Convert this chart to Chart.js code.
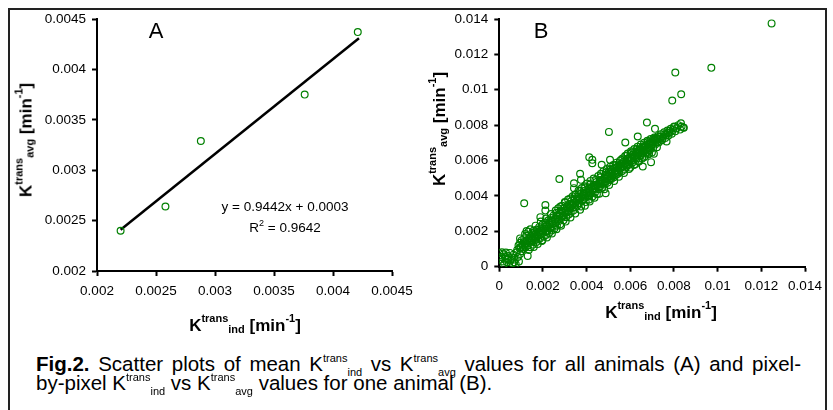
<!DOCTYPE html>
<html>
<head>
<meta charset="utf-8">
<title>Fig.2</title>
<script src="https://cdn.jsdelivr.net/npm/chart.js@4.4.0/dist/chart.umd.min.js"></script>
<style>
    body { margin: 0; background: #fff; width: 833px; height: 410px; overflow: hidden; position: relative;
           font-family: "Liberation Sans", Arial, sans-serif; color: #000; }
    canvas { position: absolute; top: 0; }
    #frame { position: absolute; left: 8px; top: 8px; width: 819px; height: 430px; border: 2px solid #222;
             box-sizing: border-box; pointer-events: none; }
    .t { position: absolute; white-space: nowrap; }
    .ttl { font-weight: bold; font-size: 17px; line-height: 20px; transform: translate(-50%, -50%); }
    .ttl.rot { transform: translate(-50%, -50%) rotate(-90deg); }
    .ttl sup, .ttl sub, .cap sup, .cap sub, .eq sup { position: relative; vertical-align: baseline; }
    .ttl sup, .ttl sub { font-size: 11px; }
    .ttl sup { top: -9px; }
    .ttl sub { top: 2px; }
    .eq { font-size: 13.5px; line-height: 16px; transform: translateX(-50%); }
    .eq sup { font-size: 9px; top: -6px; }
    .panel { font-size: 22px; line-height: 24px; transform: translateX(-50%); }
    .cap { left: 36px; font-size: 20.5px; line-height: 18px; }
    .cap.just { white-space: normal; width: 765px; text-align: justify; text-align-last: justify; }
    .cap sup, .cap sub { font-size: 11px; }
    .cap sup { top: -9px; }
    .cap sub { top: 5px; }
</style>
</head>
<body>
<canvas id="chartA" width="420" height="340" style="left:0"></canvas>
<canvas id="chartB" width="413" height="340" style="left:420px"></canvas>

<div class="t panel" style="left:156px; top:19px">A</div>
<div class="t panel" style="left:541px; top:19px">B</div>

<div class="t eq" style="left:285px; top:199px">y = 0.9442x + 0.0003</div>
<div class="t eq" style="left:285px; top:220px">R<sup>2</sup> = 0.9642</div>

<div class="t ttl" style="left:245px; top:326px">K<sup>trans</sup><sub>ind</sub> [min<sup>-1</sup>]</div>
<div class="t ttl rot" style="left:27px; top:140px">K<sup>trans</sup><sub>avg</sub> [min<sup>-1</sup>]</div>
<div class="t ttl" style="left:661px; top:313px">K<sup>trans</sup><sub>ind</sub> [min<sup>-1</sup>]</div>
<div class="t ttl rot" style="left:440px; top:129px">K<sup>trans</sup><sub>avg</sub> [min<sup>-1</sup>]</div>

<div class="t cap just" style="top:355px"><b>Fig.2.</b> Scatter plots of mean K<sup>trans</sup><sub>ind</sub> vs K<sup>trans</sup><sub>avg</sub> values for all animals (A) and pixel-</div>
<div class="t cap" style="top:374px">by-pixel K<sup>trans</sup><sub>ind</sub> vs K<sup>trans</sup><sub>avg</sub> values for one animal (B).</div>

<div id="frame"></div>

<script>
// panel A: mean values per animal
const aX = [0.0022, 0.00258, 0.00288, 0.00376, 0.00421];
const aY = [0.0024, 0.00264, 0.00329, 0.00375, 0.00437];
// fitted line end points (y = 0.9442x + 0.0003)
const fitX = [0.0022, 0.00422];
const fitY = [0.00241, 0.00431];
const aTicks = [0.002, 0.0025, 0.003, 0.0035, 0.004, 0.0045];
const aTickLabels = ['0.002', '0.0025', '0.003', '0.0035', '0.004', '0.0045'];

// panel B: pixel-by-pixel values, one animal
const bTicks = [0, 0.002, 0.004, 0.006, 0.008, 0.01, 0.012, 0.014];
const bTickLabels = ['0', '0.002', '0.004', '0.006', '0.008', '0.01', '0.012', '0.014'];
const bPairs = [
    // cluster near origin
    [0.00000,0.00076],[0.00005,0.00040],[0.00010,0.00055],[0.00015,0.00030],[0.00020,0.00070],[0.00022,0.00015],
    [0.00028,0.00045],[0.00030,0.00080],[0.00035,0.00025],[0.00040,0.00060],[0.00045,0.00010],[0.00048,0.00078],
    [0.00052,0.00035],[0.00058,0.00052],[0.00060,0.00020],[0.00065,0.00068],[0.00070,0.00040],[0.00075,0.00015],
    [0.00080,0.00082],[0.00085,0.00055],[0.00090,0.00030],[0.00012,0.00082],[0.00025,0.00058],[0.00038,0.00042],
    [0.00068,0.00025],[0.00095,0.00072],[0.00130,0.00061],
    // main band
    [0.00082,0.00095],[0.00088,0.00120],[0.00092,0.00105],[0.00095,0.00135],[0.00100,0.00088],[0.00103,0.00150],
    [0.00107,0.00118],[0.00110,0.00100],[0.00114,0.00160],[0.00118,0.00132],[0.00120,0.00108],[0.00124,0.00175],
    [0.00127,0.00145],[0.00130,0.00120],[0.00133,0.00198],[0.00136,0.00158],[0.00140,0.00135],[0.00143,0.00110],
    [0.00146,0.00170],[0.00150,0.00190],[0.00152,0.00145],
    [0.00155,0.00125],[0.00158,0.00205],[0.00161,0.00168],[0.00164,0.00150],[0.00167,0.00185],[0.00170,0.00140],
    [0.00172,0.00210],[0.00175,0.00172],[0.00178,0.00158],[0.00180,0.00195],[0.00183,0.00225],[0.00186,0.00160],
    [0.00189,0.00182],[0.00192,0.00205],[0.00195,0.00145],[0.00198,0.00238],[0.00201,0.00190],[0.00204,0.00170],
    [0.00207,0.00215],[0.00210,0.00250],[0.00213,0.00198],[0.00216,0.00180],[0.00219,0.00228],[0.00222,0.00205],
    [0.00225,0.00262],[0.00228,0.00190],[0.00231,0.00240],[0.00234,0.00218],[0.00237,0.00275],[0.00240,0.00205],
    [0.00243,0.00252],[0.00246,0.00230],[0.00249,0.00290],
    [0.00252,0.00215],[0.00255,0.00268],[0.00258,0.00245],[0.00261,0.00305],[0.00264,0.00232],[0.00267,0.00282],
    [0.00270,0.00330],[0.00273,0.00258],[0.00276,0.00300],[0.00279,0.00240],[0.00282,0.00318],[0.00285,0.00275],
    [0.00288,0.00345],[0.00291,0.00290],[0.00294,0.00262],[0.00297,0.00330],[0.00300,0.00365],[0.00303,0.00305],
    [0.00306,0.00280],[0.00309,0.00342],[0.00312,0.00318],[0.00315,0.00380],[0.00318,0.00295],[0.00321,0.00355],
    [0.00324,0.00330],[0.00327,0.00305],[0.00330,0.00372],[0.00333,0.00345],[0.00336,0.00398],[0.00339,0.00318],
    [0.00342,0.00360],[0.00345,0.00385],[0.00348,0.00335],
    [0.00351,0.00410],[0.00354,0.00372],[0.00357,0.00345],[0.00360,0.00395],[0.00363,0.00430],[0.00366,0.00358],
    [0.00369,0.00385],[0.00372,0.00412],[0.00375,0.00340],[0.00378,0.00445],[0.00381,0.00402],[0.00384,0.00375],
    [0.00387,0.00428],[0.00390,0.00455],[0.00393,0.00390],[0.00396,0.00365],[0.00399,0.00418],[0.00402,0.00470],
    [0.00405,0.00400],[0.00408,0.00442],[0.00411,0.00380],[0.00414,0.00425],[0.00417,0.00485],[0.00420,0.00412],
    [0.00423,0.00450],[0.00426,0.00395],[0.00429,0.00435],[0.00432,0.00498],[0.00435,0.00462],[0.00438,0.00420],
    [0.00441,0.00445],[0.00444,0.00478],[0.00447,0.00410],
    [0.00450,0.00462],[0.00453,0.00512],[0.00456,0.00438],[0.00459,0.00480],[0.00462,0.00455],[0.00465,0.00525],
    [0.00468,0.00490],[0.00471,0.00445],[0.00474,0.00470],[0.00477,0.00540],[0.00480,0.00500],[0.00483,0.00465],
    [0.00486,0.00520],[0.00489,0.00485],[0.00492,0.00552],[0.00495,0.00475],[0.00498,0.00510],[0.00501,0.00535],
    [0.00504,0.00490],[0.00507,0.00565],[0.00510,0.00522],[0.00513,0.00495],[0.00516,0.00548],[0.00519,0.00510],
    [0.00522,0.00575],[0.00525,0.00505],[0.00528,0.00540],[0.00531,0.00560],[0.00534,0.00518],[0.00537,0.00588],
    [0.00540,0.00545],[0.00543,0.00525],[0.00546,0.00570],
    [0.00549,0.00535],[0.00552,0.00598],[0.00555,0.00555],[0.00558,0.00580],[0.00561,0.00540],[0.00564,0.00612],
    [0.00567,0.00570],[0.00570,0.00595],[0.00573,0.00550],[0.00576,0.00625],[0.00579,0.00585],[0.00582,0.00565],
    [0.00585,0.00608],[0.00588,0.00640],[0.00591,0.00575],[0.00594,0.00598],[0.00597,0.00620],[0.00600,0.00560],
    [0.00603,0.00652],[0.00606,0.00610],[0.00609,0.00588],[0.00612,0.00635],[0.00615,0.00600],[0.00618,0.00665],
    [0.00621,0.00625],[0.00624,0.00580],[0.00627,0.00648],[0.00630,0.00612],[0.00633,0.00678],[0.00636,0.00598],
    [0.00639,0.00640],[0.00642,0.00662],[0.00645,0.00625],
    [0.00648,0.00690],[0.00651,0.00650],[0.00654,0.00612],[0.00657,0.00672],[0.00660,0.00640],[0.00663,0.00700],
    [0.00666,0.00660],[0.00669,0.00625],[0.00672,0.00685],[0.00675,0.00648],[0.00678,0.00712],[0.00681,0.00670],
    [0.00684,0.00635],[0.00687,0.00695],[0.00690,0.00660],[0.00693,0.00722],[0.00696,0.00682],[0.00699,0.00645],
    [0.00702,0.00705],[0.00705,0.00672],[0.00710,0.00730],[0.00714,0.00690],[0.00718,0.00712],[0.00722,0.00675],
    [0.00726,0.00738],[0.00730,0.00702],[0.00735,0.00722],[0.00740,0.00748],[0.00745,0.00715],[0.00750,0.00735],
    [0.00755,0.00760],[0.00760,0.00728],[0.00765,0.00745],[0.00770,0.00770],[0.00775,0.00742],[0.00780,0.00758],
    [0.00785,0.00780],[0.00790,0.00752],[0.00795,0.00772],[0.00800,0.00790],[0.00806,0.00765],[0.00812,0.00782],
    [0.00820,0.00800],[0.00828,0.00775],[0.00835,0.00792],[0.00845,0.00785],
    // band core
    [0.00105,0.00125],[0.00125,0.00150],[0.00145,0.00160],[0.00165,0.00172],[0.00185,0.00195],[0.00200,0.00215],
    [0.00215,0.00230],[0.00230,0.00248],[0.00245,0.00255],[0.00260,0.00272],[0.00275,0.00288],[0.00290,0.00305],
    [0.00305,0.00318],[0.00320,0.00335],[0.00335,0.00350],[0.00350,0.00362],[0.00365,0.00378],[0.00380,0.00392],
    [0.00395,0.00405],[0.00410,0.00420],[0.00425,0.00432],[0.00440,0.00455],[0.00455,0.00468],[0.00470,0.00482],
    [0.00485,0.00495],[0.00500,0.00512],[0.00515,0.00528],[0.00530,0.00542],[0.00545,0.00555],[0.00560,0.00568],
    [0.00575,0.00582],[0.00590,0.00600],[0.00605,0.00615],[0.00620,0.00628],[0.00635,0.00645],[0.00650,0.00660],
    [0.00665,0.00675],[0.00680,0.00690],[0.00695,0.00702],[0.00710,0.00715],[0.00725,0.00725],[0.00740,0.00735],
    [0.00760,0.00750],[0.00780,0.00768],
    [0.00112,0.00140],[0.00138,0.00148],[0.00162,0.00195],[0.00188,0.00215],[0.00212,0.00240],[0.00238,0.00262],
    [0.00262,0.00290],[0.00288,0.00312],[0.00312,0.00338],[0.00338,0.00362],[0.00362,0.00385],[0.00388,0.00410],
    [0.00412,0.00438],[0.00438,0.00462],[0.00462,0.00488],[0.00488,0.00512],[0.00512,0.00538],[0.00538,0.00560],
    [0.00562,0.00585],[0.00588,0.00610],[0.00612,0.00632],[0.00638,0.00658],[0.00662,0.00680],[0.00688,0.00698],
    [0.00712,0.00720],
    [0.00098,0.00110],[0.00122,0.00128],[0.00148,0.00152],[0.00172,0.00182],[0.00196,0.00200],[0.00220,0.00218],
    [0.00244,0.00242],[0.00268,0.00265],[0.00292,0.00285],[0.00316,0.00310],[0.00340,0.00338],[0.00364,0.00360],
    [0.00388,0.00382],[0.00412,0.00402],[0.00436,0.00440],[0.00460,0.00472],[0.00484,0.00478],[0.00508,0.00500],
    [0.00532,0.00530],[0.00556,0.00560],[0.00580,0.00575],[0.00604,0.00598],[0.00628,0.00620],[0.00652,0.00640],
    [0.00676,0.00662],[0.00700,0.00688],[0.00724,0.00705],[0.00748,0.00725],[0.00772,0.00755],
    // lower edge of band
    [0.00135,0.00095],[0.00158,0.00112],[0.00176,0.00128],[0.00197,0.00150],[0.00218,0.00165],[0.00241,0.00188],
    [0.00262,0.00212],[0.00283,0.00232],[0.00304,0.00255],[0.00326,0.00278],[0.00348,0.00300],[0.00370,0.00322],
    [0.00392,0.00345],[0.00414,0.00368],[0.00436,0.00390],[0.00458,0.00412],[0.00481,0.00438],[0.00503,0.00462],
    [0.00526,0.00485],[0.00548,0.00508],[0.00571,0.00530],[0.00594,0.00552],[0.00617,0.00575],[0.00640,0.00595],
    [0.00663,0.00618],[0.00686,0.00640],
    // upper edge of band
    [0.00095,0.00160],[0.00118,0.00185],[0.00142,0.00212],[0.00166,0.00232],[0.00190,0.00255],[0.00214,0.00272],
    [0.00236,0.00298],[0.00258,0.00318],[0.00280,0.00340],[0.00302,0.00362],[0.00325,0.00385],[0.00347,0.00408],
    [0.00370,0.00428],[0.00393,0.00448],[0.00416,0.00465],[0.00440,0.00490],[0.00463,0.00505],[0.00487,0.00532],
    [0.00510,0.00552],[0.00534,0.00575],[0.00558,0.00605],[0.00582,0.00628],[0.00606,0.00645],[0.00630,0.00665],
    [0.00655,0.00680],[0.00680,0.00705],[0.00705,0.00722],
    // scattered points off the band
    [0.01247,0.01375],[0.00971,0.01124],[0.00806,0.01098],[0.00792,0.00939],[0.00833,0.00975],[0.00676,0.00815],
    [0.00502,0.00762],[0.00713,0.00779],[0.00832,0.00811],[0.00843,0.00787],[0.00801,0.00792],[0.00634,0.00736],
    [0.00577,0.00702],[0.00412,0.00619],[0.00426,0.00604],[0.00426,0.00585],[0.00469,0.00576],[0.00507,0.00604],
    [0.00275,0.00496],[0.00370,0.00525],[0.00374,0.00491],[0.00342,0.00472],[0.00342,0.00444],[0.00114,0.00359],
    [0.00211,0.00349],[0.00211,0.00317],[0.00188,0.00280],[0.00125,0.00202],[0.00695,0.00591],[0.00708,0.00638],
    [0.00657,0.00566],[0.00487,0.00415],[0.00766,0.00708],[0.00733,0.00736]
];

const green = '#008000';
const tickFont = { family: '"Liberation Sans", Arial, sans-serif', size: 13.5 };

function axis(min, max, vals, labels, isX, fit, pad) {
    return {
        type: 'linear',
        min: min,
        max: max,
        afterBuildTicks: (scale) => { scale.ticks = vals.map(v => ({ value: v })); },
        afterFit: (scale) => {
            if (isX) scale.height = fit; else scale.width = fit;
        },
        ticks: {
            callback: (v, i) => labels[i],
            autoSkip: false,
            maxRotation: 0,
            color: '#000',
            font: tickFont,
            padding: pad
        },
        grid: {
            drawOnChartArea: false,
            drawTicks: true,
            tickLength: 5,
            tickColor: '#000',
            tickWidth: 2
        },
        border: { display: true, color: '#000', width: 2 }
    };
}

function baseOptions(pad, xAxis, yAxis) {
    return {
        responsive: false,
        animation: false,
        devicePixelRatio: 1,
        layout: { padding: pad },
        plugins: { legend: { display: false }, tooltip: { enabled: false } },
        scales: { x: xAxis, y: yAxis }
    };
}

const chartA = new Chart(document.getElementById('chartA').getContext('2d'), {
    type: 'scatter',
    data: {
        datasets: [{
            data: aX.map((x, i) => ({ x: x, y: aY[i] })),
            pointRadius: 3.4,
            pointBorderWidth: 1.2,
            pointBorderColor: green,
            pointBackgroundColor: 'rgba(0,0,0,0)'
        }, {
            type: 'line',
            data: fitX.map((x, i) => ({ x: x, y: fitY[i] })),
            borderColor: '#000',
            borderWidth: 2.5,
            pointRadius: 0,
            fill: false
        }]
    },
    options: baseOptions({ left: 0, top: 19, right: 28, bottom: 0 },
        axis(0.002, 0.0045, aTicks, aTickLabels, true, 69, 7),
        axis(0.002, 0.0045, aTicks, aTickLabels, false, 97, 6))
});

const chartB = new Chart(document.getElementById('chartB').getContext('2d'), {
    type: 'scatter',
    data: {
        datasets: [{
            data: bPairs.map(p => ({ x: p[0], y: p[1] })),
            pointRadius: 3.4,
            pointBorderWidth: 1.2,
            pointBorderColor: green,
            pointBackgroundColor: 'rgba(0,0,0,0)'
        }]
    },
    options: baseOptions({ left: 0, top: 19, right: 28, bottom: 0 },
        axis(0, 0.014, bTicks, bTickLabels, true, 73.3, 6),
        axis(0, 0.014, bTicks, bTickLabels, false, 79.3, 6))
});
</script>
</body>
</html>
